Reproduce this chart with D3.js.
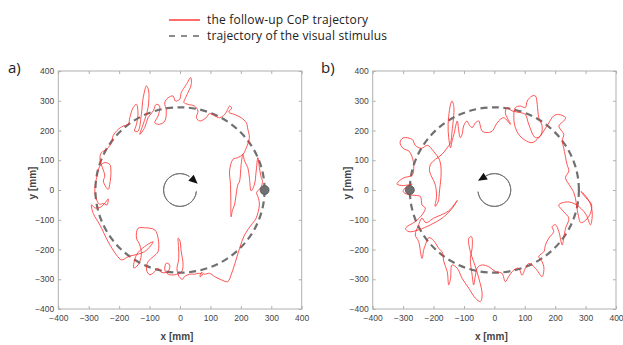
<!DOCTYPE html>
<html>
<head>
<meta charset="utf-8">
<script src="https://cdn.jsdelivr.net/npm/d3@7"></script>
<style>
  body { margin: 0; background: #fff; }
  svg { display: block; }
</style>
</head>
<body>
<div id="chart"></div>
<script>
var width = 623, height = 345;

// tick values for both axes (mm)
var ticks = [-400, -300, -200, -100, 0, 100, 200, 300, 400];

// radius of the visual stimulus trajectory (mm)
var stimulusRadius = 278;

// start position of the stimulus in each panel (mm)
var markerA = [278, 0];
var markerB = [-278, 0];

// follow-up CoP trajectory, panel a (x, y in mm)
var copA = [
  [272,30],[266,8],[252,-8],[258,-28],[261,-50],[250,-95],[234,-118],[212,-151],[196,-196],
  [179,-252],[168,-285],[157,-308],[136,-302],[114,-291],[97,-280],[81,-283],[70,-277],
  [66,-292],[74,-284],[60,-280],[48,-283],[32,-283],[15,-291],[8,-300],[0,-295],[-6,-285],
  [-10,-265],[-4,-230],[-5,-190],[-6,-162],[-1,-168],[4,-207],[10,-250],[5,-275],[-17,-285],
  [-39,-283],[-50,-269],[-45,-246],[-34,-252],[-39,-274],[-61,-277],[-72,-263],[-83,-274],
  [-99,-285],[-110,-269],[-105,-241],[-88,-224],[-72,-207],[-72,-162],[-83,-134],[-116,-127],
  [-138,-129],[-143,-162],[-132,-185],[-127,-218],[-138,-252],[-152,-262],[-143,-218],
  [-116,-190],[-88,-174],[-116,-207],[-170,-224],[-192,-235],[-209,-218],[-236,-174],
  [-263,-118],[-285,-79],[-291,-50],[-280,-60],[-262,-58],[-245,-42],[-236,-30],[-240,-50],
  [-252,-45],[-264,-48],[-276,-28],[-280,0],[-274,42],[-263,81],[-247,92],[-231,86],
  [-227,64],[-231,19],[-236,2],[-252,30],[-247,47],[-263,103],[-258,126],[-241,137],
  [-225,159],[-220,182],[-203,204],[-187,215],[-170,221],[-165,243],[-154,277],[-143,288],
  [-138,254],[-143,221],[-149,198],[-138,198],[-127,254],[-121,310],[-110,350],[-103,333],
  [-105,277],[-121,221],[-132,187],[-116,210],[-105,243],[-88,266],[-78,288],[-67,282],
  [-72,249],[-83,226],[-67,221],[-50,232],[-45,266],[-50,294],[-39,310],[-23,316],[-15,299],
  [-1,305],[4,327],[21,355],[35,378],[37,355],[21,316],[13,294],[26,288],[48,282],[59,266],
  [54,243],[65,232],[86,243],[97,257],[114,249],[130,243],[147,254],[157,271],[163,282],
  [170,275],[160,262],[179,254],[201,243],[218,226],[223,204],[228,176],[218,142],[207,120],
  [190,109],[174,103],[163,64],[166,19],[167,-40],[168,-90],[172,-70],[179,-50],[190,17],
  [196,30],[201,86],[207,120],[212,98],[223,75],[228,42],[234,-3],[245,20],[250,60],
  [256,109],[261,75],[267,42],[272,30]
];

// follow-up CoP trajectory, panel b (x, y in mm)
var copB = [
  [-270,20],[-290,10],[-300,-5],[-285,-15],[-262,-18],[-243,-22],[-238,-50],[-227,-61],
  [-238,-84],[-260,-106],[-292,-129],[-281,-140],[-249,-134],[-210,-117],[-172,-95],
  [-139,-62],[-122,-35],[-150,-70],[-200,-95],[-225,-110],[-238,-95],[-250,-120],[-260,-151],
  [-249,-173],[-238,-230],[-232,-200],[-227,-185],[-215,-160],[-200,-170],[-180,-200],
  [-172,-207],[-166,-241],[-155,-274],[-150,-319],[-144,-297],[-139,-252],[-122,-263],
  [-106,-297],[-84,-330],[-62,-364],[-46,-375],[-40,-353],[-51,-297],[-68,-241],[-79,-207],
  [-84,-162],[-75,-157],[-73,-196],[-79,-230],[-73,-286],[-68,-319],[-62,-286],[-55,-260],
  [-40,-252],[-18,-258],[3,-274],[25,-280],[36,-308],[47,-291],[64,-269],[80,-263],
  [91,-286],[102,-263],[113,-247],[135,-263],[157,-291],[163,-263],[157,-241],[146,-224],
  [163,-207],[168,-185],[179,-162],[195,-140],[190,-123],[201,-117],[212,-140],[223,-185],
  [228,-162],[234,-129],[245,-95],[228,-73],[212,-50],[240,-40],[270,-50],[300,-80],
  [316,-117],[322,-80],[315,-45],[300,-20],[285,-5],[300,-25],[320,-50],[310,-90],
  [285,-110],[275,-80],[267,-30],[260,-5],[245,19],[234,42],[245,64],[239,86],[228,142],
  [223,165],[228,187],[212,215],[228,232],[234,243],[212,254],[195,249],[173,215],[146,176],
  [124,159],[97,170],[80,187],[69,210],[64,243],[69,277],[86,282],[102,277],[108,299],
  [124,316],[135,316],[141,288],[146,243],[157,215],[152,182],[135,176],[113,221],[102,254],
  [86,260],[58,266],[42,277],[36,260],[53,221],[31,243],[14,232],[3,215],[-7,198],[-24,193],
  [-40,198],[-46,215],[-51,232],[-62,226],[-73,210],[-84,221],[-90,232],[-101,215],
  [-106,187],[-112,176],[-117,198],[-122,232],[-133,187],[-139,165],[-144,142],[-150,176],
  [-152,221],[-144,288],[-139,299],[-133,277],[-139,198],[-144,159],[-155,142],[-172,120],
  [-194,103],[-210,86],[-213,64],[-205,42],[-195,20],[-190,-20],[-195,-55],[-185,-40],
  [-180,0],[-175,60],[-180,100],[-200,130],[-220,150],[-240,140],[-260,150],[-270,170],
  [-300,175],[-310,160],[-300,140],[-280,130],[-270,110],[-265,80],[-270,50],[-300,40],
  [-320,20],[-300,15],[-270,20]
];

var legendItems = ["the follow-up CoP trajectory", "trajectory of the visual stimulus"];

var svg = d3.select('#chart')
  .append('svg')
    .attr('width', width)
    .attr('height', height);

// legend on top
var legend = svg.append('g').attr('font-family', '"Open Sans", Lato, sans-serif').attr('font-size', 12).attr('fill', '#222');
legend.append('line').attr('x1', 169).attr('x2', 200).attr('y1', 20).attr('y2', 20)
  .attr('stroke', '#ff3b3b').attr('stroke-width', 1.5);
legend.append('line').attr('x1', 169).attr('x2', 200).attr('y1', 36).attr('y2', 36)
  .attr('stroke', '#666').attr('stroke-width', 1.5).attr('stroke-dasharray', '6,6');
legend.selectAll('text.leg')
  .data(legendItems)
  .join('text')
    .attr('class', 'leg')
    .attr('x', 207)
    .attr('y', (d, i) => 24 + i * 16)
    .attr('textLength', (d, i) => i == 0 ? 161 : 180)
    .text(d => d);

function drawPanel(opt) {
  var x = d3.scaleLinear().domain([-400, 400]).range([opt.left, opt.right]);
  var y = d3.scaleLinear().domain([-400, 400]).range([opt.bottom, opt.top]);
  var g = svg.append('g');

  // box with inward ticks on all sides (matlab style)
  g.append('rect')
    .attr('x', opt.left).attr('y', opt.top)
    .attr('width', opt.right - opt.left).attr('height', opt.bottom - opt.top)
    .attr('fill', 'none').attr('stroke', '#b0b0b0').attr('stroke-width', 1);

  var axes = [
    {ax: d3.axisBottom(x), tr: [0, opt.bottom]},
    {ax: d3.axisTop(x), tr: [0, opt.top]},
    {ax: d3.axisLeft(y), tr: [opt.left, 0]},
    {ax: d3.axisRight(y), tr: [opt.right, 0]}
  ];
  axes.forEach(function(a, i) {
    var ag = g.append('g')
      .attr('transform', 'translate(' + a.tr + ')')
      .call(a.ax.tickValues(ticks).tickSize(-3).tickPadding(i == 0 ? 6 : 4).tickFormat(i == 0 || i == 2 ? d3.format('d') : ''));
    ag.select('.domain').remove();
    ag.selectAll('.tick line').attr('stroke', '#b0b0b0');
    ag.selectAll('.tick text')
      .attr('fill', '#444')
      .attr('font-size', 8.5)
      .attr('font-family', 'Liberation Sans, Arial, sans-serif');
  });

  // axis titles
  g.append('text')
    .attr('x', (opt.left + opt.right) / 2 - 3).attr('y', 340)
    .attr('text-anchor', 'middle')
    .attr('font-family', 'Liberation Sans, Arial, sans-serif')
    .attr('font-size', 10).attr('font-weight', 'bold').attr('fill', '#444')
    .text('x [mm]');
  g.append('text')
    .attr('transform', 'translate(' + (opt.left - 22) + ',' + ((opt.top + opt.bottom) / 2 - 7) + ') rotate(-90)')
    .attr('text-anchor', 'middle')
    .attr('font-family', 'Liberation Sans, Arial, sans-serif')
    .attr('font-size', 10).attr('font-weight', 'bold').attr('fill', '#444')
    .text('y [mm]');

  // panel letter
  g.append('text')
    .attr('x', opt.labelX).attr('y', 73)
    .attr('font-family', '"Open Sans", Lato, sans-serif')
    .attr('font-size', 15).attr('fill', '#222')
    .text(opt.label);

  // stimulus trajectory
  g.append('ellipse')
    .attr('cx', x(0)).attr('cy', y(0))
    .attr('rx', x(stimulusRadius) - x(0))
    .attr('ry', y(0) - y(stimulusRadius))
    .attr('fill', 'none').attr('stroke', '#707070')
    .attr('stroke-width', 2.2).attr('stroke-dasharray', '7,4.5');

  // CoP trajectory
  var line = d3.line().x(d => x(d[0])).y(d => y(d[1])).curve(d3.curveCatmullRom.alpha(0.5));
  g.append('path')
    .datum(opt.cop)
    .attr('d', line)
    .attr('fill', 'none').attr('stroke', '#ff2a2a')
    .attr('stroke-opacity', 0.8).attr('stroke-width', 1);

  // start marker
  g.append('circle')
    .attr('cx', x(opt.marker[0])).attr('cy', y(opt.marker[1]))
    .attr('r', 4.5).attr('fill', '#707070').attr('stroke', '#555').attr('stroke-width', 0.8);

  // rotation direction arrow in the centre
  var r = x(54) - x(0);
  var arc = d3.arc().innerRadius(r).outerRadius(r)
    .startAngle(opt.arc[0] * Math.PI / 180).endAngle(opt.arc[1] * Math.PI / 180);
  var cg = g.append('g').attr('transform', 'translate(' + x(0) + ',' + y(0) + ')');
  cg.append('path').attr('d', arc()).attr('fill', 'none').attr('stroke', '#777').attr('stroke-width', 1);
  var a = opt.head * Math.PI / 180;
  var dir = opt.clockwise ? 1 : -1;
  var px = r * Math.sin(a), py = -r * Math.cos(a);
  var tx = Math.cos(a) * dir, ty = Math.sin(a) * dir;   // tangent direction
  var nx = Math.sin(a), ny = -Math.cos(a);              // radial direction
  var L = 9, W = 4;
  cg.append('path')
    .attr('d', 'M' + (px + tx * L) + ',' + (py + ty * L) +
               'L' + (px + nx * W) + ',' + (py + ny * W) +
               'L' + (px - nx * W) + ',' + (py - ny * W) + 'Z')
    .attr('fill', '#111');
}

drawPanel({left: 58.3, right: 301.7, top: 71, bottom: 309, label: 'a)', labelX: 8,
  cop: copA, marker: markerA, arc: [95, 395], head: 42, clockwise: true});
drawPanel({left: 372.7, right: 616, top: 71, bottom: 309, label: 'b)', labelX: 321,
  cop: copB, marker: markerB, arc: [-32, 264], head: -32, clockwise: false});
</script>
</body>
</html>
